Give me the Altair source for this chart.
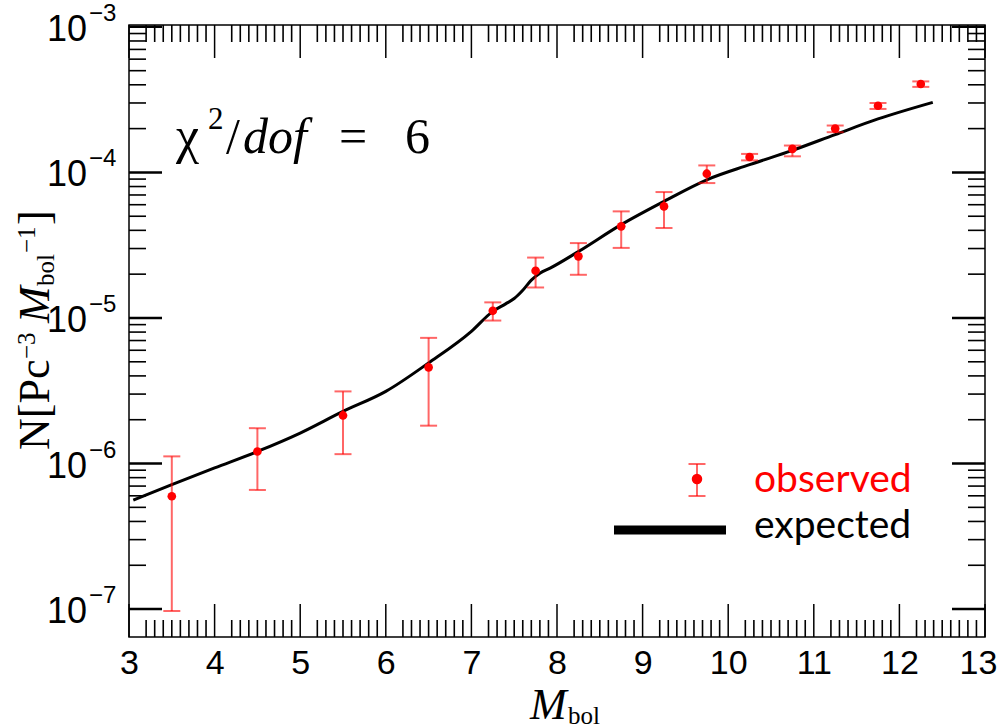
import altair as alt
import pandas as pd

# ---------------- data ----------------
obs_x = [3.5, 4.5, 5.5, 6.5, 7.25, 7.75, 8.25, 8.75, 9.25, 9.75, 10.25, 10.75, 11.25, 11.75, 12.25]
obs_y = [5.96e-7, 1.21e-6, 2.14e-6, 4.58e-6, 1.12e-5, 2.11e-5, 2.65e-5, 4.26e-5, 5.84e-5, 9.8e-5,
         1.277e-4, 1.45e-4, 2.0e-4, 2.87e-4, 4.05e-4]
obs_hi = [1.12e-6, 1.75e-6, 3.13e-6, 7.3e-6, 1.28e-5, 2.6e-5, 3.27e-5, 5.4e-5, 7.33e-5, 1.117e-4,
          1.34e-4, 1.53e-4, 2.1e-4, 3.0e-4, 4.22e-4]
obs_lo = [9.7e-8, 6.59e-7, 1.16e-6, 1.82e-6, 9.6e-6, 1.62e-5, 1.98e-5, 3.03e-5, 4.15e-5, 8.45e-5,
          1.21e-4, 1.29e-4, 1.89e-4, 2.73e-4, 3.87e-4]

exp_x = [3.05, 3.5, 4.0, 4.5, 5.0, 5.5, 6.0, 6.5, 7.0, 7.25, 7.4, 7.5, 7.6, 7.7, 7.8, 7.92,
         8.25, 8.75, 9.25, 9.75, 10.25, 10.75, 11.25, 11.75, 12.39]
exp_y = [5.6e-7, 7.16e-7, 9.33e-7, 1.21e-6, 1.62e-6, 2.28e-6, 3.13e-6, 4.91e-6, 8.09e-6, 1.11e-5,
         1.25e-5, 1.36e-5, 1.55e-5, 1.82e-5, 2.03e-5, 2.2e-5,
         2.86e-5, 4.38e-5, 6.33e-5, 8.9e-5, 1.13e-4, 1.417e-4, 1.82e-4, 2.33e-4, 3.03e-4]

x_labels = [3, 4, 5, 6, 7, 8, 9, 10, 11, 12, 13]
x_minor = [n + k / 10 for n in range(3, 13) for k in range(2, 10)]
y_major = [1e-7, 1e-6, 1e-5, 1e-4, 1e-3]
y_exp = ["\u22127", "\u22126", "\u22125", "\u22124", "\u22123"]
y_minor = [m * 10.0 ** e for e in range(-7, -3) for m in range(2, 10)]

legend_obs = ["observed"]
legend_exp = ["expected"]

# ---------------- layout ----------------
W, H = 856, 612
RED = "#ff0000"

xs = alt.Scale(domain=[3, 13], nice=False, zero=False)
ys = alt.Scale(type="log", domain=[6.43e-8, 1.03e-3], nice=False)

x_axis = alt.Axis(values=x_labels, ticks=False, tickSize=0, domain=False, grid=False,
                  labelFont="Liberation Sans", labelFontSize=34, labelPadding=9,
                  labelColor="black", title=None, labelFlush=False, format="d",
                  labelOffset={"condition": {"test": "datum.value == 13", "value": -7}, "value": 0})


def X(f="v"):
    return alt.X(f"{f}:Q", scale=xs, axis=x_axis)


def Y(f="v"):
    return alt.Y(f"{f}:Q", scale=ys, axis=None)


obs = pd.DataFrame({"m": obs_x, "n": obs_y, "lo": obs_lo, "hi": obs_hi})
exp = pd.DataFrame({"m": exp_x, "n": exp_y})

line = alt.Chart(exp).mark_line(color="black", strokeWidth=3, interpolate="monotone").encode(
    x=X("m"), y=Y("n"))

err = alt.Chart(obs).mark_rule(color=RED, opacity=0.6, strokeWidth=2).encode(
    x=X("m"), y=Y("lo"), y2="hi:Q")
cap_lo = alt.Chart(obs).mark_tick(color=RED, opacity=0.6, thickness=2, size=17,
                                  orient="horizontal").encode(x=X("m"), y=Y("lo"))
cap_hi = alt.Chart(obs).mark_tick(color=RED, opacity=0.6, thickness=2, size=17,
                                  orient="horizontal").encode(x=X("m"), y=Y("hi"))
pts = alt.Chart(obs).mark_circle(color=RED, size=75, opacity=1).encode(x=X("m"), y=Y("n"))

# ---- frame ticks (inward) ----
ymaj = pd.DataFrame({"v": y_major, "e": y_exp})
ymin = pd.DataFrame({"v": y_minor})
xmaj = pd.DataFrame({"v": x_labels})
xmin = pd.DataFrame({"v": x_minor})

tick_layers = []
for df, ln, sw in [(ymaj, 33, 2.5), (ymin, 17, 1.6)]:
    tick_layers.append(alt.Chart(df).mark_rule(color="black", strokeWidth=sw).encode(
        y=Y("v"), x=alt.value(0), x2=alt.value(ln)))
    tick_layers.append(alt.Chart(df).mark_rule(color="black", strokeWidth=sw).encode(
        y=Y("v"), x=alt.value(W - ln), x2=alt.value(W)))
for df, ln, sw in [(xmaj, 33, 1.5), (xmin, 17, 1.6)]:
    tick_layers.append(alt.Chart(df).mark_rule(color="black", strokeWidth=sw).encode(
        x=X("v"), y=alt.value(H - ln), y2=alt.value(H)))
    tick_layers.append(alt.Chart(df).mark_rule(color="black", strokeWidth=sw).encode(
        x=X("v"), y=alt.value(0), y2=alt.value(ln)))

# ---- y tick labels 10^n ----
ylab_base = alt.Chart(ymaj).transform_calculate(t="'10'").mark_text(
    font="Liberation Sans", fontSize=36, align="right", baseline="middle", color="black",
    dy=3).encode(y=Y("v"), x=alt.value(-42), text="t:N")
ylab_exp = alt.Chart(ymaj).mark_text(
    font="Liberation Sans", fontSize=24, align="left", baseline="middle", color="black",
    dy=-13).encode(y=Y("v"), x=alt.value(-40), text="e:N")


# ---- axis titles ----
def txt(s, x, y, size, font="Liberation Serif", style="normal", align="left",
        baseline="alphabetic", angle=0, dx=0, dy=0, color="black"):
    return alt.Chart(pd.DataFrame({"t": [s]})).mark_text(
        font=font, fontSize=size, fontStyle=style, align=align, baseline=baseline,
        angle=angle, dx=dx, dy=dy, color=color).encode(
        x=alt.value(x), y=alt.value(y), text="t:N")


F, S = 44, 25
XT_X, XT_Y = 401, 694
xtitle = [
    txt("M", XT_X, XT_Y, F, style="italic"),
    txt("bol", XT_X + 38, XT_Y + 5, S),
]

YT_X, YT_Y = -80, 425
ytitle = [
    txt("N[Pc", YT_X, YT_Y, F, angle=270, dx=0),
    txt("\u22123", YT_X, YT_Y, S, angle=270, dx=91, dy=-14),
    txt("M", YT_X, YT_Y, F, style="italic", angle=270, dx=127),
    txt("bol", YT_X, YT_Y, S, angle=270, dx=164, dy=5),
    txt("\u22121", YT_X, YT_Y, S, angle=270, dx=197, dy=-14),
    txt("]", YT_X, YT_Y, F, angle=270, dx=225),
]

# ---- chi^2 annotation ----
CB = 128
chi = [
    txt("\u03c7", 47, CB, 52),
    txt("2", 79, CB - 24, 31),
    txt("/", 97, CB, 50),
    txt("dof", 114, CB, 50, style="italic"),
    txt("=", 210, CB, 50),
    txt("6", 276, CB, 50),
]

# ---- legend ----
LX, LY = 697 - 129, 479 - 25
leg = [
    alt.Chart(pd.DataFrame({"t": legend_obs})).mark_rule(color=RED, opacity=0.6, strokeWidth=2).encode(
        x=alt.value(LX), y=alt.value(LY - 15), y2=alt.value(LY + 17)),
    alt.Chart(pd.DataFrame({"t": legend_obs})).mark_rule(color=RED, opacity=0.6, strokeWidth=2).encode(
        x=alt.value(LX - 8.5), x2=alt.value(LX + 8.5), y=alt.value(LY - 15)),
    alt.Chart(pd.DataFrame({"t": legend_obs})).mark_rule(color=RED, opacity=0.6, strokeWidth=2).encode(
        x=alt.value(LX - 8.5), x2=alt.value(LX + 8.5), y=alt.value(LY + 17)),
    alt.Chart(pd.DataFrame({"t": legend_obs})).mark_circle(color=RED, size=110, opacity=1).encode(
        x=alt.value(LX), y=alt.value(LY)),
    alt.Chart(pd.DataFrame({"t": legend_exp})).mark_rule(color="black", strokeWidth=9).encode(
        x=alt.value(614 - 129), x2=alt.value(726 - 129), y=alt.value(530 - 25)),
    alt.Chart(pd.DataFrame({"t": legend_obs})).mark_text(
        font="Lato", fontSize=39, align="left", baseline="alphabetic", color=RED).encode(
        x=alt.value(754 - 129), y=alt.value(492 - 25), text="t:N"),
    alt.Chart(pd.DataFrame({"t": legend_exp})).mark_text(
        font="Lato", fontSize=39, align="left", baseline="alphabetic", color="black").encode(
        x=alt.value(754 - 129), y=alt.value(538 - 25), text="t:N"),
]

chart = alt.layer(
    line, err, cap_lo, cap_hi, pts, *tick_layers, ylab_base, ylab_exp,
    *xtitle, *ytitle, *chi, *leg
).properties(
    width=W, height=H,
    autosize=alt.AutoSizeParams(type="none"),
    padding={"left": 129, "top": 25, "right": 14, "bottom": 91},
    background="white",
).configure_view(stroke="black", strokeWidth=1.5)

chart.save("out.html", embed_options={"renderer": "svg", "actions": False})
